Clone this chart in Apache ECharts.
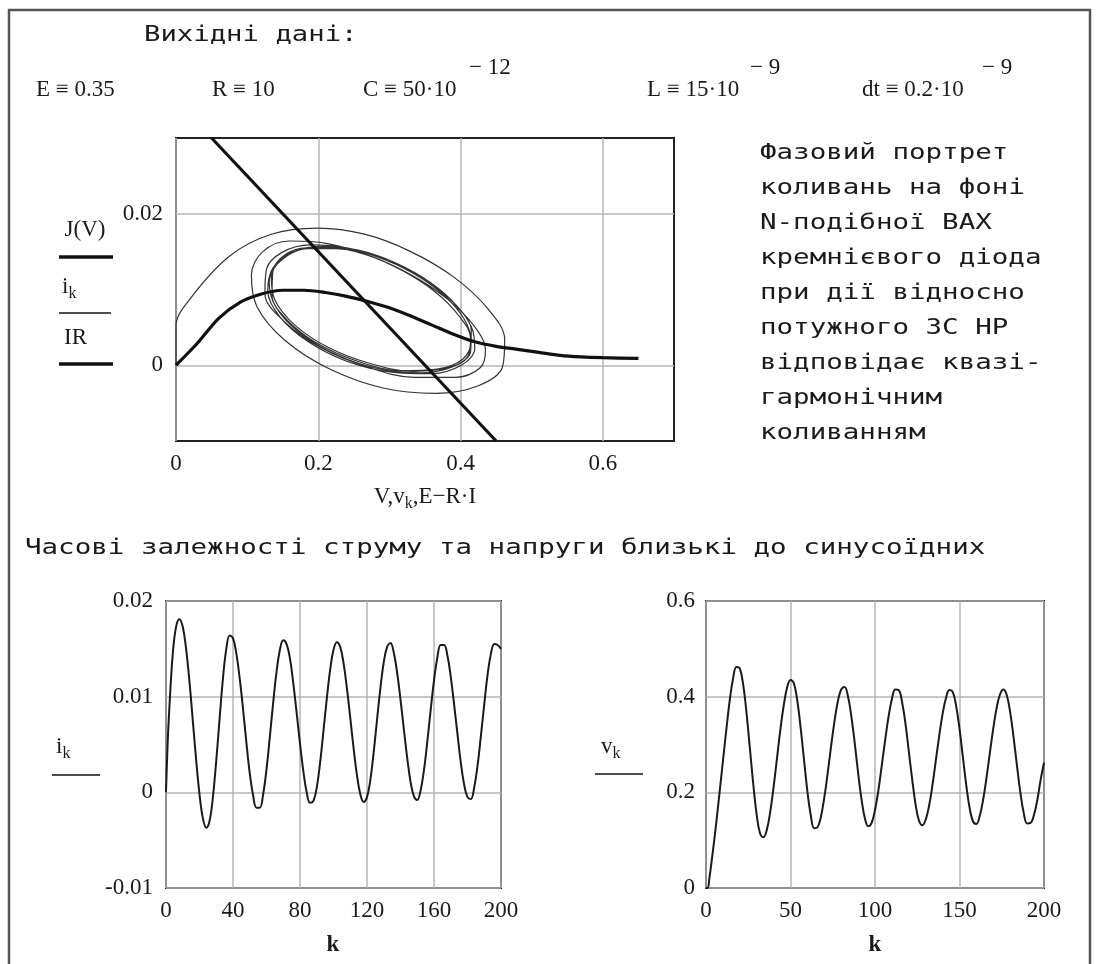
<!DOCTYPE html>
<html>
<head>
<meta charset="utf-8">
<title>Фазовий портрет</title>
<script src="https://cdn.jsdelivr.net/npm/echarts@6/dist/echarts.min.js"></script>
<style>
  html, body { margin: 0; padding: 0; background: #fff; }
  #chart { width: 1097px; height: 964px; }
</style>
</head>
<body>
<div id="chart"></div>
<script>
// крок k
const kSteps = [0, 1,
  2, 4, 6, 8, 10, 12, 14, 16, 18, 20,
  22, 24, 26, 28, 30, 32, 34, 36, 38, 40,
  42, 44, 46, 48, 50, 52, 54, 56, 58, 60,
  62, 64, 66, 68, 70, 72, 74, 76, 78, 80,
  82, 84, 86, 88, 90, 92, 94, 96, 98, 100,
  102, 104, 106, 108, 110, 112, 114, 116, 118, 120,
  122, 124, 126, 128, 130, 132, 134, 136, 138, 140,
  142, 144, 146, 148, 150, 152, 154, 156, 158, 160,
  162, 164, 166, 168, 170, 172, 174, 176, 178, 180,
  182, 184, 186, 188, 190, 192, 194, 196, 198, 200]

// струм i_k
const iK = [0, 0.0052,
  0.0088, 0.0144, 0.0173, 0.0181, 0.0173, 0.0150, 0.0116, 0.0075, 0.0034, -0.0002,
  -0.0027, -0.0037, -0.0030, -0.0005, 0.0033, 0.0077, 0.0119, 0.0150, 0.0164, 0.0161,
  0.0145, 0.0119, 0.0087, 0.0052, 0.0020, -0.0003, -0.0016, -0.0016, -0.0002, 0.0024,
  0.0058, 0.0094, 0.0126, 0.0149, 0.0159, 0.0155, 0.0140, 0.0114, 0.0083, 0.0051,
  0.0022, 0.0000, -0.0011, -0.0009, 0.0005, 0.0031, 0.0064, 0.0098, 0.0128, 0.0149,
  0.0157, 0.0152, 0.0135, 0.0109, 0.0078, 0.0046, 0.0018, -0.0002, -0.0010, -0.0005,
  0.0013, 0.0042, 0.0076, 0.0109, 0.0136, 0.0152, 0.0156, 0.0146, 0.0125, 0.0097,
  0.0066, 0.0036, 0.0011, -0.0004, -0.0008, 0.0002, 0.0023, 0.0053, 0.0086, 0.0117,
  0.0141, 0.0154, 0.0154, 0.0143, 0.0121, 0.0092, 0.0061, 0.0031, 0.0008, -0.0005,
  -0.0007, 0.0005, 0.0028, 0.0059, 0.0092, 0.0123, 0.0145, 0.0155, 0.0154, 0.0150]

// напруга v_k
const vK = [0, 0,
  0.020, 0.075, 0.134, 0.199, 0.265, 0.330, 0.391, 0.438, 0.462, 0.459,
  0.425, 0.365, 0.291, 0.216, 0.153, 0.114, 0.106, 0.122, 0.159, 0.211,
  0.271, 0.331, 0.382, 0.419, 0.435, 0.428, 0.392, 0.335, 0.268, 0.202,
  0.152, 0.125, 0.127, 0.149, 0.189, 0.240, 0.296, 0.348, 0.390, 0.415,
  0.420, 0.401, 0.359, 0.303, 0.241, 0.186, 0.146, 0.129, 0.136, 0.163,
  0.204, 0.256, 0.309, 0.358, 0.395, 0.415, 0.414, 0.389, 0.344, 0.286,
  0.227, 0.175, 0.141, 0.131, 0.143, 0.172, 0.215, 0.267, 0.318, 0.364,
  0.397, 0.414, 0.410, 0.381, 0.333, 0.274, 0.215, 0.167, 0.139, 0.134,
  0.151, 0.185, 0.231, 0.283, 0.334, 0.377, 0.405, 0.415, 0.403, 0.367,
  0.315, 0.256, 0.200, 0.157, 0.135, 0.136, 0.152, 0.183, 0.226, 0.262]

// ВАХ діода J(V)
const jvV = [0, 0.03, 0.06, 0.09, 0.12, 0.15, 0.18, 0.21, 0.24, 0.27, 0.30,
  0.33, 0.36, 0.39, 0.42, 0.45, 0.48, 0.51, 0.54, 0.57, 0.60, 0.65]
const jvI = [0, 0.0029, 0.0062, 0.0083, 0.0094, 0.0099, 0.0099, 0.0096, 0.0091, 0.0084, 0.0076,
  0.0065, 0.0053, 0.0041, 0.0031, 0.0025, 0.0021, 0.0017, 0.0013, 0.0011, 0.0010, 0.0009]

// навантажувальна пряма E-R*I
const irV = [0.05, 0.45]
const irI = [0.03, -0.01]

const phaseXTicks = [0, 0.2, 0.4, 0.6]
const phaseYTicks = [0, 0.02]

const infoLines = ['Фазовий портрет', 'коливань на фоні', 'N-подібної ВАХ', 'кремнієвого діода',
  'при дії відносно', 'потужного ЗС НР', 'відповідає квазі-', 'гармонічним', 'коливанням']

const serif = '"Liberation Serif", "Times New Roman", serif'
const mono = '"DejaVu Sans Mono", monospace'
const ink = '#1a1a1a'

const myChart = echarts.init(document.getElementById('chart'), null, { renderer: 'canvas' })

function gridBox (left, top, width, height) {
  return {
    left: left, top: top, width: width, height: height,
    show: true, borderColor: '#222', borderWidth: 2,
    backgroundColor: 'transparent', containLabel: false, outerBoundsMode: 'none'
  }
}

const splitLine = { show: true, lineStyle: { color: '#b5b5b5', width: 1.5 } }

function axis (gridIndex, min, max, interval, margin, custom) {
  const a = {
    gridIndex: gridIndex,
    type: 'value',
    min: min,
    max: max,
    axisLine: { show: false },
    axisTick: { show: false },
    axisLabel: { color: ink, fontFamily: serif, fontSize: 23, margin: margin },
    splitLine: splitLine
  }
  if (interval) a.interval = interval
  if (custom) {
    a.axisTick.customValues = custom
    a.axisLabel.customValues = custom
  }
  return a
}

function txt (x, y, text, font, extra) {
  return Object.assign({
    type: 'text', x: x, y: y, silent: true,
    style: { text: text, font: font, fill: ink, align: 'left', verticalAlign: 'middle' }
  }, extra || {})
}

function ctxt (x, y, text, font) {
  return {
    type: 'text', x: x, y: y, silent: true,
    style: { text: text, font: font, fill: ink, align: 'center', verticalAlign: 'middle' }
  }
}

function subTxt (x, y, parts, align) {
  // текст з нижнім індексом (rich)
  return {
    type: 'text', x: x, y: y, silent: true,
    style: {
      text: parts, fill: ink, align: align || 'left', verticalAlign: 'middle',
      rich: {
        a: { font: '23px ' + serif, fill: ink },
        s: { font: '16px ' + serif, fill: ink, padding: [14, 0, 0, 0] }
      }
    }
  }
}

function hLine (x1, x2, y, w) {
  return {
    type: 'line', silent: true,
    shape: { x1: x1, y1: y, x2: x2, y2: y },
    style: { stroke: '#111', lineWidth: w }
  }
}

const graphic = [
  {
    type: 'rect', silent: true, z: -1,
    shape: { x: 9, y: 10, width: 1081, height: 1000 },
    style: { fill: null, stroke: '#555', lineWidth: 2.5 }
  },
  txt(144, 35, 'Вихідні дані:', '22px ' + mono, { scaleX: 1.24 }),
  txt(36, 90, 'E ≡ 0.35', '23px ' + serif),
  txt(212, 90, 'R ≡ 10', '23px ' + serif),
  txt(363, 90, 'C ≡ 50·10', '23px ' + serif),
  txt(469, 68, '− 12', '23px ' + serif),
  txt(647, 90, 'L ≡ 15·10', '23px ' + serif),
  txt(750, 68, '− 9', '23px ' + serif),
  txt(862, 90, 'dt ≡ 0.2·10', '23px ' + serif),
  txt(982, 68, '− 9', '23px ' + serif),
  txt(25, 548, 'Часові залежності струму та напруги близькі до синусоїдних', '22px ' + mono, { scaleX: 1.25 }),
  // легенда фазового портрета
  ctxt(85, 230, 'J(V)', '23px ' + serif),
  hLine(59, 113, 257, 3.5),
  subTxt(62, 287, '{a|i}{s|k}'),
  hLine(59, 111, 313, 1.5),
  txt(64, 338, 'IR', '23px ' + serif),
  hLine(59, 113, 364, 3.5),
  subTxt(425, 497, '{a|V,v}{s|k}{a|,E−R·I}', 'center'),
  // легенди нижніх графіків
  subTxt(56, 747, '{a|i}{s|k}'),
  hLine(52, 100, 775, 1.5),
  subTxt(601, 747, '{a|v}{s|k}'),
  hLine(595, 643, 774, 1.5),
  ctxt(333, 945, 'k', 'bold 23px ' + serif),
  ctxt(875, 945, 'k', 'bold 23px ' + serif)
]

infoLines.forEach(function (line, n) {
  graphic.push(txt(760, 153 + n * 35, line, '22px ' + mono, { scaleX: 1.25 }))
})

const option = {
  animation: false,
  backgroundColor: '#fff',
  grid: [
    gridBox(176, 138, 498, 303),
    gridBox(166, 601, 335, 287),
    gridBox(706, 601, 338, 287)
  ],
  xAxis: [
    axis(0, 0, 0.7, null, 11, phaseXTicks),
    axis(1, 0, 200, 40, 11),
    axis(2, 0, 200, 50, 11)
  ],
  yAxis: [
    axis(0, -0.01, 0.03, null, 13, phaseYTicks),
    axis(1, -0.01, 0.02, 0.01, 13),
    axis(2, 0, 0.6, 0.2, 11)
  ],
  graphic: graphic,
  series: [
    {
      name: 'i_k(v_k)',
      type: 'line',
      xAxisIndex: 0,
      yAxisIndex: 0,
      showSymbol: false,
      smooth: 0.35,
      lineStyle: { color: '#333', width: 1.2 },
      data: kSteps.map(function (k, n) { return [vK[n], iK[n]] })
    },
    {
      name: 'J(V)',
      type: 'line',
      xAxisIndex: 0,
      yAxisIndex: 0,
      showSymbol: false,
      smooth: 0.3,
      lineStyle: { color: '#111', width: 3.2 },
      data: jvV.map(function (v, n) { return [v, jvI[n]] })
    },
    {
      name: 'IR',
      type: 'line',
      xAxisIndex: 0,
      yAxisIndex: 0,
      showSymbol: false,
      lineStyle: { color: '#111', width: 3.2 },
      data: irV.map(function (v, n) { return [v, irI[n]] })
    },
    {
      name: 'i_k',
      type: 'line',
      xAxisIndex: 1,
      yAxisIndex: 1,
      showSymbol: false,
      smooth: 0.4,
      lineStyle: { color: '#1a1a1a', width: 2 },
      data: kSteps.map(function (k, n) { return [k, iK[n]] })
    },
    {
      name: 'v_k',
      type: 'line',
      xAxisIndex: 2,
      yAxisIndex: 2,
      showSymbol: false,
      smooth: 0.4,
      lineStyle: { color: '#1a1a1a', width: 2 },
      data: kSteps.map(function (k, n) { return [k, vK[n]] })
    }
  ]
}

myChart.setOption(option)
window.addEventListener('resize', function () {
  myChart.resize()
})
</script>
</body>
</html>
